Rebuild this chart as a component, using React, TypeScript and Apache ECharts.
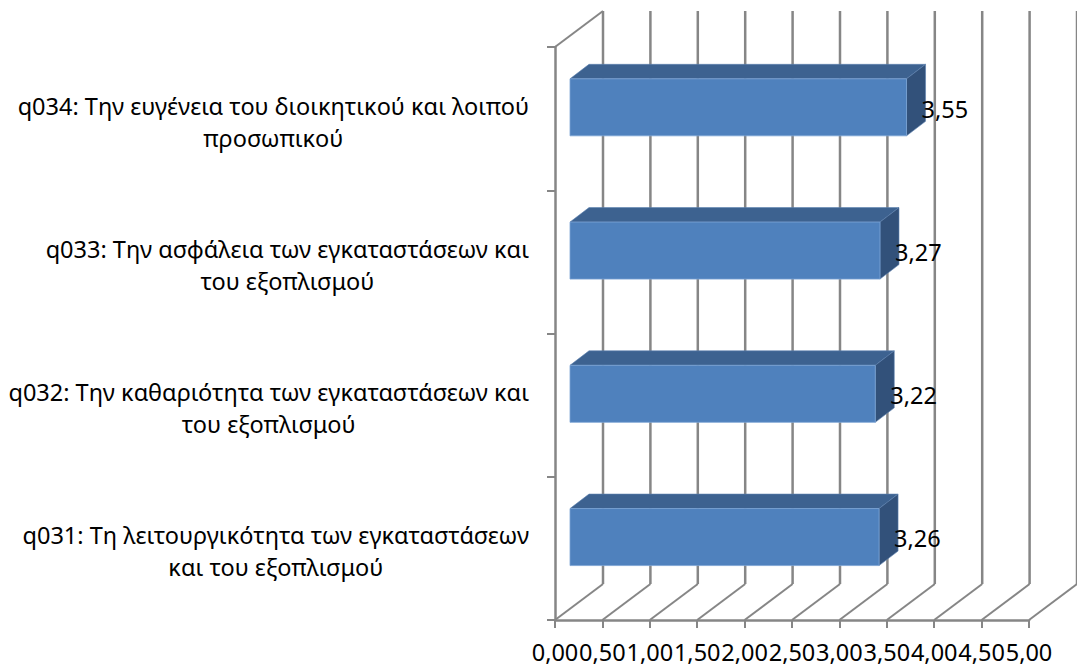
import React, { useEffect, useRef } from "react";
import * as echarts from "echarts";

const categories = [
  "q031: Τη λειτουργικότητα των εγκαταστάσεων\nκαι του εξοπλισμού",
  "q032: Την καθαριότητα των εγκαταστάσεων και\nτου εξοπλισμού",
  "q033: Την ασφάλεια των εγκαταστάσεων και\nτου εξοπλισμού",
  "q034: Την ευγένεια του διοικητικού και λοιπού\nπροσωπικού",
];
const values = [3.26, 3.22, 3.27, 3.55];
const tickValues = [0, 0.5, 1, 1.5, 2, 2.5, 3, 3.5, 4, 4.5, 5];

const FONT = "'Noto Sans', sans-serif";
const GRID = "#868686";
const DEPTH_X = 48;
const DEPTH_Y = -36;
const fmt = (v: number) => v.toFixed(2).replace(".", ",");

export default function App() {
  const ref = useRef<HTMLDivElement>(null);
  useEffect(() => {
    const chart = echarts.init(ref.current!, undefined, { renderer: "svg" });
    chart.setOption({
      animation: false,
      backgroundColor: "#fff",
      grid: { left: 555, right: 48, top: 47, bottom: 48, containLabel: false },
      xAxis: {
        type: "value",
        min: 0,
        max: 5,
        interval: 0.5,
        splitLine: { show: false },
        axisLine: { show: true, lineStyle: { color: GRID, width: 2.5 } },
        axisTick: { show: true, length: 8, lineStyle: { color: GRID, width: 2 } },
        axisLabel: {
          fontFamily: FONT,
          fontSize: 23.5,
          color: "#000",
          margin: 19.5,
          showMinLabel: true,
          showMaxLabel: true,
          hideOverlap: false,
          formatter: (v: number) => fmt(v),
        },
      },
      yAxis: {
        type: "category",
        data: categories,
        axisLine: { show: true, lineStyle: { color: GRID, width: 2.5 } },
        axisTick: { show: true, length: 8, lineStyle: { color: GRID, width: 2 } },
        axisLabel: {
          align: "right",
          margin: 26,
          formatter: (v: string) =>
            v.split("\n").map((l) => `{a|${l}}`).join("\n"),
          rich: {
            a: {
              align: "center",
              fontFamily: FONT,
              fontSize: 23.5,
              lineHeight: 32,
              color: "#000",
              padding: [6, 0, 0, 0],
            },
          },
        },
      },
      series: [
        {
          type: "custom",
          silent: true,
          z: 1,
          data: tickValues.map((v) => [v]),
          encode: { x: 0 },
          renderItem: (params: any, api: any) => {
            const cs = params.coordSys;
            const x = api.coord([api.value(0), 0])[0];
            const top = cs.y;
            const bottom = cs.y + cs.height;
            const children: any[] = [
              {
                type: "line",
                shape: { x1: x + DEPTH_X, y1: top + DEPTH_Y, x2: x + DEPTH_X, y2: bottom + DEPTH_Y },
                style: { stroke: GRID, lineWidth: 2.5 },
              },
              {
                type: "line",
                shape: { x1: x, y1: bottom, x2: x + DEPTH_X, y2: bottom + DEPTH_Y },
                style: { stroke: GRID, lineWidth: 2 },
              },
            ];
            if (params.dataIndex === 0) {
              children.push({
                type: "line",
                shape: { x1: x, y1: top, x2: x + DEPTH_X, y2: top + DEPTH_Y },
                style: { stroke: GRID, lineWidth: 2 },
              });
            }
            return { type: "group", children };
          },
        },
        {
          type: "custom",
          silent: true,
          z: 3,
          data: values.map((v, i) => [v, i]),
          encode: { x: 0, y: 1 },
          renderItem: (_params: any, api: any) => {
            const v = api.value(0);
            const [x0] = api.coord([0, 0]);
            const [xEnd, yMid] = api.coord([v, api.value(1)]);
            const band = api.size([0, 1])[1];
            const h = band * 0.398;
            const shiftX = 15;
            const shiftY = -11.3;
            const l = x0 + shiftX;
            const r = xEnd + shiftX;
            const t = yMid + shiftY - h / 2;
            const b = t + h;
            const dx = 19;
            const dy = -14.5;
            return {
              type: "group",
              children: [
                {
                  type: "polygon",
                  shape: { points: [[l, t], [l + dx, t + dy], [r + dx, t + dy], [r, t]] },
                  style: { fill: "#3D6290", stroke: "#5d82b0", lineWidth: 0.6 },
                },
                {
                  type: "polygon",
                  shape: { points: [[r, t], [r + dx, t + dy], [r + dx, b + dy], [r, b]] },
                  style: { fill: "#32517A", stroke: "#5d82b0", lineWidth: 0.6 },
                },
                {
                  type: "rect",
                  shape: { x: l, y: t, width: r - l, height: h },
                  style: { fill: "#4F81BD", stroke: "#7ba3d4", lineWidth: 0.8 },
                },
                {
                  type: "text",
                  x: r + 15,
                  y: yMid - 10,
                  style: {
                    text: fmt(v),
                    fontFamily: FONT,
                    fontSize: 23.5,
                    fill: "#000",
                    textAlign: "left",
                    textVerticalAlign: "middle",
                  },
                },
              ],
            };
          },
        },
      ],
    });
    return () => chart.dispose();
  }, []);
  return (
    <div
      ref={ref}
      style={{ position: "fixed", left: 0, top: 0, width: 1077, height: 668 }}
    />
  );
}
